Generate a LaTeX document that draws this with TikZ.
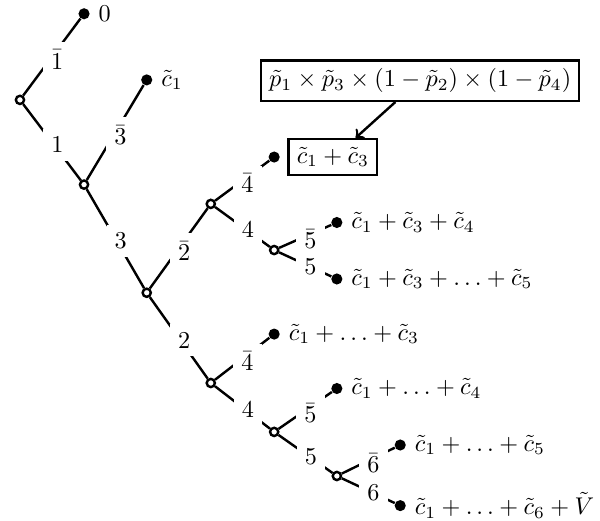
\documentclass[tikz,border=0pt]{standalone}
\usepackage{amsmath}
\usetikzlibrary{positioning}
\begin{document}
\begin{tikzpicture}[
    open/.style={circle, draw, line width=1pt, fill=white, inner sep=0pt, minimum size=3.4pt},
    leaf/.style={circle, fill=black, inner sep=0pt, minimum size=4.6pt},
    edge/.style={line width=1pt},
    elab/.style={fill=white, xshift=2.2pt, yshift=-1pt},
    pbox/.style={draw, line width=1pt}]
    \useasboundingbox (0,0) rectangle (8.71,7.56);
    % --- BRANCH POINTS ---
	\node[open] (v1) at (0.29,6.11) {};
	\node[open] (v3) at (1.22,4.88) {};
	\node[open] (v2) at (2.13,3.31) {};
	\node[open] (v4) at (3.06,4.60) {};
	\node[open] (v5) at (3.98,3.93) {};
	\node[open] (w4) at (3.06,2.00) {};
	\node[open] (w5) at (3.98,1.29) {};
	\node[open] (w6) at (4.89,0.65) {};
    % --- LEAVES ---
	\node[leaf, label=right:$0$] (t0) at (1.22,7.36) {};
	\node[leaf, label=right:$\tilde{c}_1$] (t1) at (2.13,6.40) {};
	\node[leaf] (t13) at (3.98,5.28) {};
	\node[leaf, label=right:$\tilde{c}_1+\tilde{c}_3+\tilde{c}_4$] (t134) at (4.89,4.33) {};
	\node[leaf, label=right:$\tilde{c}_1+\tilde{c}_3+\ldots+\tilde{c}_5$] (t135) at (4.89,3.51) {};
	\node[leaf, label=right:$\tilde{c}_1+\ldots+\tilde{c}_3$] (u3) at (3.98,2.71) {};
	\node[leaf, label=right:$\tilde{c}_1+\ldots+\tilde{c}_4$] (u4) at (4.89,1.92) {};
	\node[leaf, label=right:$\tilde{c}_1+\ldots+\tilde{c}_5$] (u5) at (5.81,1.10) {};
	\node[leaf, label=right:$\tilde{c}_1+\ldots+\tilde{c}_6+\tilde{V}$] (u6) at (5.81,0.22) {};
    % --- EDGES ---
	\draw[edge] (v1) -- node[elab] {$\bar{1}$} (t0);
	\draw[edge] (v1) -- node[elab] {$1$} (v3);
	\draw[edge] (v3) -- node[elab] {$\bar{3}$} (t1);
	\draw[edge] (v3) -- node[elab] {$3$} (v2);
	\draw[edge] (v2) -- node[elab] {$\bar{2}$} (v4);
	\draw[edge] (v2) -- node[elab] {$2$} (w4);
	\draw[edge] (v4) -- node[elab] {$\bar{4}$} (t13);
	\draw[edge] (v4) -- node[elab] {$4$} (v5);
	\draw[edge] (v5) -- node[elab] {$\bar{5}$} (t134);
	\draw[edge] (v5) -- node[elab] {$5$} (t135);
	\draw[edge] (w4) -- node[elab] {$\bar{4}$} (u3);
	\draw[edge] (w4) -- node[elab] {$4$} (w5);
	\draw[edge] (w5) -- node[elab] {$\bar{5}$} (u4);
	\draw[edge] (w5) -- node[elab] {$5$} (w6);
	\draw[edge] (w6) -- node[elab] {$\bar{6}$} (u5);
	\draw[edge] (w6) -- node[elab] {$6$} (u6);
    % --- BOXES ---
	\node[pbox, right=3pt of t13] (cbox) {$\tilde{c}_1+\tilde{c}_3$};
	\node[pbox] (prob) at (6.10,6.39) {$\tilde{p}_1\times\tilde{p}_3\times(1-\tilde{p}_2)\times(1-\tilde{p}_4)$};
	\draw[edge, ->] ([xshift=-0.36cm]prob.south) -- ([xshift=0.33cm]cbox.north);
\end{tikzpicture}
\end{document}
